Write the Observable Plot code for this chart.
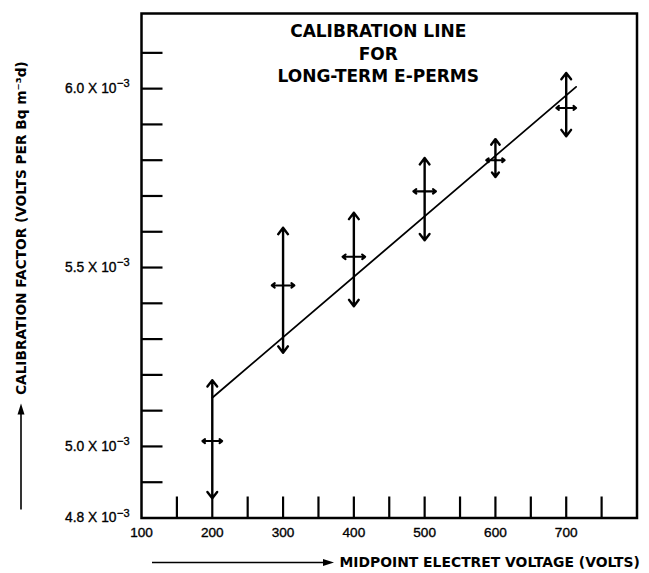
<!DOCTYPE html>
<html><head><meta charset="utf-8">
<script src="https://cdn.jsdelivr.net/npm/d3@7"></script>
<script src="https://cdn.jsdelivr.net/npm/@observablehq/plot@0.6"></script>
<style>body{margin:0;background:#fff}</style>
</head><body><div id="chart"></div>
<script>
// ---- data ----
const voltage     = [200, 300, 400, 500, 600, 700];
const factor      = [5.015, 5.450, 5.530, 5.713, 5.800, 5.946];
const factorHigh  = [5.185, 5.611, 5.653, 5.806, 5.859, 6.044];
const factorLow   = [4.855, 5.262, 5.392, 5.576, 5.753, 5.867];
const voltageErr  = [14, 16, 16, 16, 13, 14];
const fitVoltage  = [200, 714];
const fitFactor   = [5.136, 6.005];
const xTicks      = [150, 200, 250, 300, 350, 400, 450, 500, 550, 600, 650, 700, 750];
const xTickLabels = [100, 200, 300, 400, 500, 600, 700];
const yTicks      = [4.9, 5.0, 5.1, 5.2, 5.3, 5.4, 5.5, 5.6, 5.7, 5.8, 5.9, 6.0, 6.1];
const yTickLabels = [4.8, 5.0, 5.5, 6.0];
const titleLines  = ["CALIBRATION LINE", "FOR", "LONG-TERM E-PERMS"];
const xTitle      = "MIDPOINT ELECTRET VOLTAGE (VOLTS)";
const yTitle      = "CALIBRATION FACTOR (VOLTS PER Bq m⁻³d)";

const points = voltage.map((v, i) => ({v, f: factor[i], hi: factorHigh[i], lo: factorLow[i], e: voltageErr[i]}));
const fit = fitVoltage.map((v, i) => ({v, f: fitFactor[i]}));

const W = 649, H = 573;
const mL = 141, mR = 12.5, mT = 13, mB = 55.5;
const innerW = W - mL - mR, innerH = H - mT - mB;

const arrowStyle = {stroke: "black", strokeWidth: 2.4, headLength: 5, headAngle: 75};
const tickFont = {fontFamily: "Liberation Sans", fill: "black", stroke: "black", strokeWidth: 0.35};

const plot = Plot.plot({
  width: W, height: H,
  marginLeft: mL, marginRight: mR, marginTop: mT, marginBottom: mB,
  style: {fontFamily: "DejaVu Sans", background: "white", color: "black"},
  x: {domain: [100, 800], axis: null},
  y: {domain: [4.8, 6.21], axis: null},
  marks: [
    Plot.tickY(yTicks, {y: d => d, stroke: "black", strokeWidth: 2.2, insetRight: innerW - 21.5}),
    Plot.tickX(xTicks, {x: d => d, stroke: "black", strokeWidth: 2.2, insetTop: innerH - 21}),
    Plot.line(fit, {x: "v", y: "f", stroke: "black", strokeWidth: 1.8}),
    Plot.arrow(points, {x1: "v", x2: "v", y1: "f", y2: "hi", ...arrowStyle}),
    Plot.arrow(points, {x1: "v", x2: "v", y1: "f", y2: "lo", ...arrowStyle}),
    Plot.arrow(points, {x1: "v", x2: d => d.v + d.e, y1: "f", y2: "f", ...arrowStyle, strokeWidth: 2.1}),
    Plot.arrow(points, {x1: "v", x2: d => d.v - d.e, y1: "f", y2: "f", ...arrowStyle, strokeWidth: 2.1}),
    Plot.frame({stroke: "black", strokeWidth: 2.5}),
    Plot.text([titleLines.join("\n")], {frameAnchor: "top", dx: -11, dy: 39, lineAnchor: "middle", lineHeight: 1.32, fontSize: 17, fontWeight: "bold", fill: "black"}),
    Plot.text(yTickLabels, {y: d => d, text: d => d.toFixed(1) + " X 10", frameAnchor: "left", textAnchor: "end", dx: -25, fontSize: 13.8, ...tickFont}),
    Plot.text(yTickLabels, {y: d => d, text: () => "−3", frameAnchor: "left", textAnchor: "start", dx: -24.5, dy: -5, fontSize: 11, ...tickFont}),
    Plot.text(xTickLabels, {x: d => d, text: d => String(d), frameAnchor: "bottom", dy: 15, lineAnchor: "middle", fontSize: 13.6, ...tickFont}),
    Plot.text([xTitle], {frameAnchor: "bottom-left", textAnchor: "start", dx: 198, dy: 45, lineAnchor: "middle", fontWeight: "bold", fontSize: 13.9, fill: "black"}),
    Plot.text([yTitle], {frameAnchor: "bottom-left", textAnchor: "start", rotate: -90, dx: -120, dy: -123, lineAnchor: "middle", fontWeight: "bold", fontSize: 13.7, fill: "black"})
  ]
});

// decorative axis-title arrows
const svg = d3.select(plot);
const B = H - mB;
const g = svg.append("g").attr("fill", "black").attr("stroke", "black");
// x-title arrow
const xa = {x0: mL + 11, x1: mL + 193, y: B + 45};
g.append("line").attr("x1", xa.x0).attr("x2", xa.x1 - 9).attr("y1", xa.y).attr("y2", xa.y).attr("stroke-width", 1.6);
g.append("path").attr("stroke", "none").attr("d", `M${xa.x1},${xa.y}L${xa.x1 - 11},${xa.y - 3.5}L${xa.x1 - 11},${xa.y + 3.5}Z`);
// y-title arrow
const ya = {x: mL - 120, y0: B - 8, y1: B - 114};
g.append("line").attr("x1", ya.x).attr("x2", ya.x).attr("y1", ya.y0).attr("y2", ya.y1 + 9).attr("stroke-width", 1.6);
g.append("path").attr("stroke", "none").attr("d", `M${ya.x},${ya.y1}L${ya.x - 3.5},${ya.y1 + 11}L${ya.x + 3.5},${ya.y1 + 11}Z`);

document.getElementById("chart").appendChild(plot);
</script>
</body></html>
